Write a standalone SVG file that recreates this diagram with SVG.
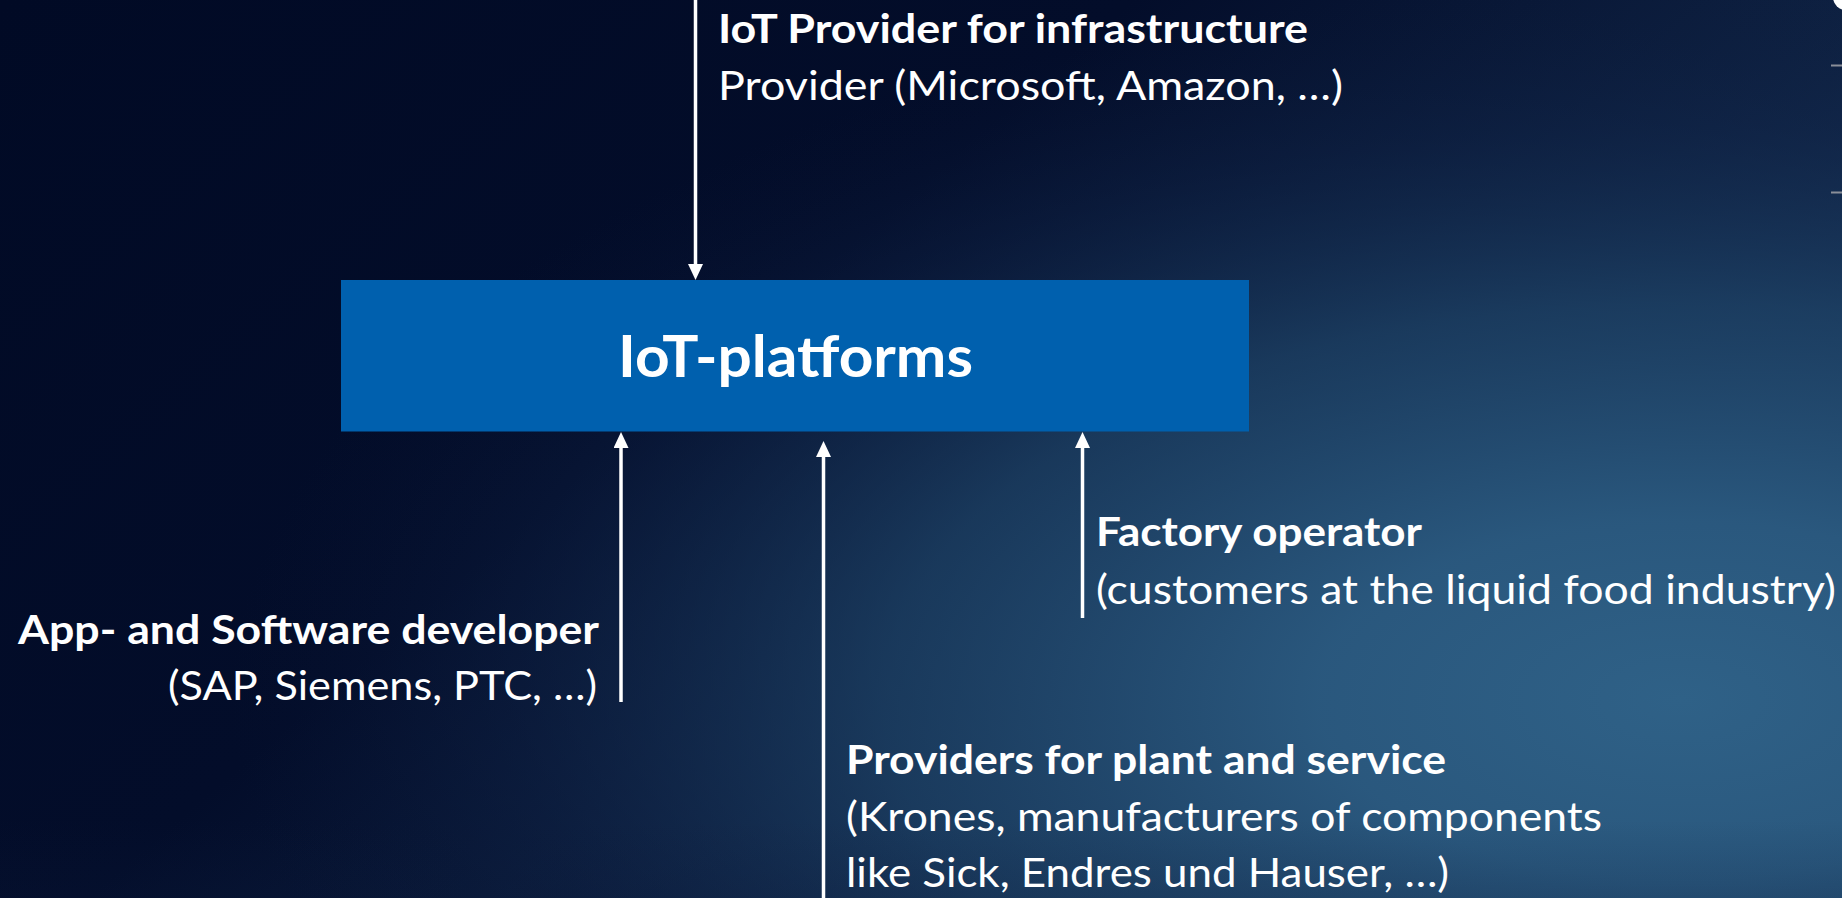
<svg xmlns="http://www.w3.org/2000/svg" width="1842" height="898" viewBox="0 0 1842 898">
  <defs>
    <linearGradient id="bgLin" x1="0" y1="0" x2="1200" y2="1400" gradientUnits="userSpaceOnUse">
      <stop offset="0" stop-color="#010a25"/>
      <stop offset="0.4" stop-color="#030d2a"/>
      <stop offset="1" stop-color="#1d3c62"/>
    </linearGradient>
    <radialGradient id="glow" cx="0" cy="0" r="1" gradientUnits="userSpaceOnUse" gradientTransform="translate(1680 700) scale(1450 720)">
      <stop offset="0" stop-color="#2f6187" stop-opacity="1"/>
      <stop offset="0.25" stop-color="#2b5a80" stop-opacity="0.95"/>
      <stop offset="0.55" stop-color="#1f4569" stop-opacity="0.7"/>
      <stop offset="0.8" stop-color="#11264a" stop-opacity="0.35"/>
      <stop offset="1" stop-color="#0a1838" stop-opacity="0"/>
    </radialGradient>
    <linearGradient id="bottomShade" x1="0" y1="820" x2="0" y2="898" gradientUnits="userSpaceOnUse">
      <stop offset="0" stop-color="#0b1a3a" stop-opacity="0"/>
      <stop offset="1" stop-color="#0b1a3a" stop-opacity="0.2"/>
    </linearGradient>
    <marker id="arrow" markerUnits="userSpaceOnUse" markerWidth="16" markerHeight="15" refX="1" refY="7.5" orient="auto">
      <path d="M0,0 L16,7.5 L0,15 z" fill="#ffffff"/>
    </marker>
    <style>
      .conn { stroke: #ffffff; stroke-width: 3.5; fill: none; marker-end: url(#arrow); }
      .lbl { font-family: Lato, "Open Sans", "Liberation Sans", sans-serif; fill: #ffffff; font-size: 41px; }
      .b { font-weight: bold; }
      .title { font-family: Lato, "Open Sans", "Liberation Sans", sans-serif; fill: #ffffff; font-size: 57px; font-weight: bold; }
      .tick { stroke: #8a8f99; stroke-width: 2; }
    </style>
  </defs>

  <rect x="0" y="0" width="1842" height="898" fill="url(#bgLin)"/>
  <rect x="0" y="0" width="1842" height="898" fill="url(#glow)"/>
  <rect x="0" y="0" width="1842" height="898" fill="url(#bottomShade)"/>

  <!-- slide edge fragments -->
  <circle cx="1846" cy="-3" r="13" fill="#ffffff"/>
  <line class="tick" x1="1831" y1="65.5" x2="1842" y2="65.5"/>
  <line class="tick" x1="1831" y1="192.5" x2="1842" y2="192.5"/>

  <g id="connectors">
    <line class="conn" x1="695.5" y1="0" x2="695.5" y2="265"/>
    <line class="conn" x1="621" y1="702" x2="621" y2="447"/>
    <line class="conn" x1="823.5" y1="898" x2="823.5" y2="456"/>
    <line class="conn" x1="1082.5" y1="618" x2="1082.5" y2="447"/>
  </g>

  <g id="platform">
    <rect x="341" y="280" width="908" height="151.5" fill="#0060ae"/>
    <text class="title" x="795.5" y="377" text-anchor="middle" textLength="355" lengthAdjust="spacingAndGlyphs">IoT-platforms</text>
  </g>

  <g id="infra-provider">
    <text class="lbl b" x="718" y="42.5" textLength="590" lengthAdjust="spacingAndGlyphs">IoT Provider for infrastructure</text>
    <text class="lbl" x="718" y="100" textLength="625" lengthAdjust="spacingAndGlyphs">Provider (Microsoft, Amazon, …)</text>
  </g>

  <g id="app-developer">
    <text class="lbl b" x="18" y="643.5" textLength="581" lengthAdjust="spacingAndGlyphs">App- and Software developer</text>
    <text class="lbl" x="168" y="700" textLength="429" lengthAdjust="spacingAndGlyphs">(SAP, Siemens, PTC, …)</text>
  </g>

  <g id="factory-operator">
    <text class="lbl b" x="1096" y="545.5" textLength="326" lengthAdjust="spacingAndGlyphs">Factory operator</text>
    <text class="lbl" x="1096" y="603.5" textLength="740" lengthAdjust="spacingAndGlyphs">(customers at the liquid food industry)</text>
  </g>

  <g id="plant-providers">
    <text class="lbl b" x="846" y="773.5" textLength="600" lengthAdjust="spacingAndGlyphs">Providers for plant and service</text>
    <text class="lbl" x="846" y="830.5" textLength="756" lengthAdjust="spacingAndGlyphs">(Krones, manufacturers of components</text>
    <text class="lbl" x="846" y="887" textLength="603" lengthAdjust="spacingAndGlyphs">like Sick, Endres und Hauser, …)</text>
  </g>
</svg>
